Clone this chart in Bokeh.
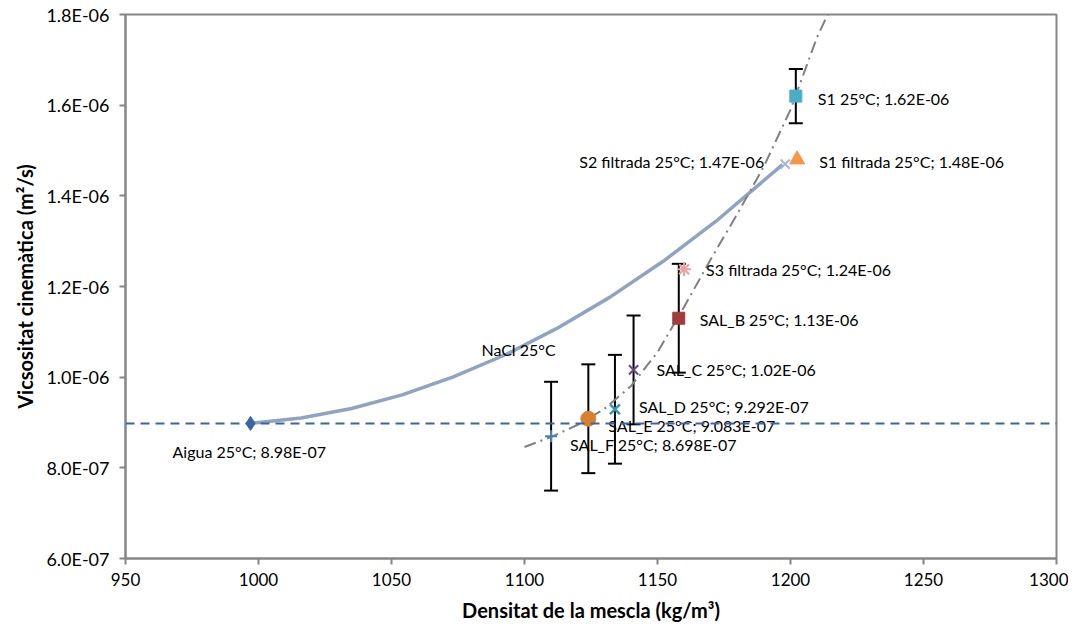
from bokeh.plotting import figure
from bokeh.models import (ColumnDataSource, Whisker, TeeHead, Span, Range1d,
                          SingleIntervalTicker, CustomJSTickFormatter)
from bokeh.embed import file_html
from bokeh.resources import INLINE
from bokeh.core.properties import value

# ---------------- data ----------------
names = ["Aigua 25°C", "SAL_F 25°C", "SAL_E 25°C", "SAL_D 25°C", "SAL_C 25°C",
         "SAL_B 25°C", "S3 filtrada 25°C", "S1 25°C", "S1 filtrada 25°C", "S2 filtrada 25°C"]
density = [997, 1110, 1124, 1134, 1141, 1158, 1160, 1202, 1202.5, 1198]
viscosity = [8.98e-7, 8.698e-7, 9.083e-7, 9.292e-7, 1.016e-6, 1.13e-6, 1.238e-6,
             1.62e-6, 1.48e-6, 1.47e-6]
value_text = ["8.98E-07", "8.698E-07", "9.083E-07", "9.292E-07", "1.02E-06",
              "1.13E-06", "1.24E-06", "1.62E-06", "1.48E-06", "1.47E-06"]
error = [0, 1.2e-7, 1.2e-7, 1.2e-7, 1.2e-7, 1.2e-7, 0, 6e-8, 0, 0]

# NaCl 25°C reference curve
nacl_density = [997, 1016, 1035, 1054, 1073, 1093, 1112, 1132, 1152, 1172, 1197]
nacl_visc = [8.98e-7, 9.10e-7, 9.31e-7, 9.61e-7, 1.000e-6, 1.050e-6, 1.107e-6,
             1.176e-6, 1.255e-6, 1.344e-6, 1.469e-6]

# trend line through the samples
trend_density = [1100, 1110, 1120, 1130, 1140, 1150, 1160, 1170, 1180, 1190, 1200, 1210, 1214]
trend_visc = [8.46e-7, 8.68e-7, 8.95e-7, 9.30e-7, 9.80e-7, 1.055e-6, 1.155e-6,
              1.26e-6, 1.36e-6, 1.465e-6, 1.59e-6, 1.75e-6, 1.80e-6]

water_level = 8.98e-7

x_ticks_interval = 50
y_ticks_interval = 2e-7

# ---------------- styles ----------------
markers = ["diamond", "cross", "circle", "x", "x", "square", "asterisk", "square", "triangle", "x"]
colors = ["#3A67A3", "#4A7EBB", "#D9802E", "#2E9AAE", "#654A8A", "#A23B39",
          "#E6A3A1", "#4BACC6", "#F79646", "#A5B7DA"]
sizes = [14, 12, 15, 14, 13, 12, 14, 12, 15, 13]
widths = [1, 2, 1, 2.5, 2, 1, 2, 1, 1, 2]
label_dx = [-78, 19, 20, 24, 23, 21, 22, 22, 22, -21]
label_dy = [28, 8, 7, -3, 0, 1, 0, 2, 2, -3]
label_align = ["left"] * 9 + ["right"]

FONT = "Lato"

p = figure(frame_width=931, frame_height=544, output_backend="svg", toolbar_location=None,
           x_range=Range1d(950, 1300), y_range=Range1d(6e-7, 1.8e-6),
           min_border_left=125, min_border_top=14, min_border_right=12, min_border_bottom=60,
           background_fill_color="white", border_fill_color="white")
p.grid.visible = False
p.outline_line_color = "#868686"
p.outline_line_width = 2

p.xaxis.ticker = SingleIntervalTicker(interval=x_ticks_interval)
p.yaxis.ticker = SingleIntervalTicker(interval=y_ticks_interval)
p.yaxis.formatter = CustomJSTickFormatter(
    code="var s = tick.toExponential(1); var m = s.split('e'); var e = parseInt(m[1]);"
         "var sign = e < 0 ? '-' : '+'; var a = Math.abs(e); return m[0] + 'E' + sign + (a < 10 ? '0' : '') + a;")

for ax in (p.xaxis[0], p.yaxis[0]):
    ax.axis_line_color = "#868686"
    ax.axis_line_width = 2
    ax.major_tick_line_color = "#868686"
    ax.major_tick_line_width = 2
    ax.major_tick_out = 6
    ax.major_tick_in = 0
    ax.minor_tick_line_color = None
    ax.major_label_text_font = FONT
    ax.major_label_text_font_size = "17px"
    ax.major_label_text_color = "#000000"
    ax.axis_label_text_font = FONT
    ax.axis_label_text_font_size = "20px"
    ax.axis_label_text_font_style = "bold"
    ax.axis_label_text_color = "#000000"

p.yaxis.major_label_text_font_size = "18px"
p.xaxis.major_label_standoff = 8
p.yaxis.major_label_standoff = 10
p.xaxis.axis_label = "Densitat de la mescla (kg/m³)"
p.yaxis.axis_label = "Vicsositat cinemàtica (m²/s)"
p.xaxis.axis_label_standoff = 9
p.yaxis.axis_label_standoff = 6

# water level
p.add_layout(Span(location=water_level, dimension="width", line_color="#3A67A3",
                  line_width=2, line_dash="9 6"))

# NaCl curve
p.line(nacl_density, nacl_visc, line_color="#8FA3C2", line_width=3.5)
p.text(x=[1083.8], y=[1.061e-6], text=["NaCl 25°C"], text_font=value(FONT),
       text_font_size="16px", text_baseline="middle", text_color="#000000")

# trend line
p.line(trend_density, trend_visc, line_color="#808080", line_width=2, line_dash="12 5 2 5")

# error bars
eb_x = [d for d, e in zip(density, error) if e > 0]
eb_lo = [v - e for v, e in zip(viscosity, error) if e > 0]
eb_hi = [v + e for v, e in zip(viscosity, error) if e > 0]
eb_src = ColumnDataSource(dict(x=eb_x, lo=eb_lo, hi=eb_hi))
p.add_layout(Whisker(source=eb_src, base="x", lower="lo", upper="hi", dimension="height",
                     line_color="black", line_width=2,
                     upper_head=TeeHead(size=14, line_width=2, line_color="black"),
                     lower_head=TeeHead(size=14, line_width=2, line_color="black")))

src = ColumnDataSource(dict(x=density, y=viscosity, marker=markers, color=colors, size=sizes,
                            lw=widths,
                            label=[f"{n}; {v}" for n, v in zip(names, value_text)],
                            dx=label_dx, dy=label_dy, align=label_align))
p.scatter(x="x", y="y", marker="marker", size="size", fill_color="color",
          line_color="color", line_width="lw", source=src)
p.text(x="x", y="y", text="label", x_offset="dx", y_offset="dy", text_align="align",
       text_baseline="middle", text_font=value(FONT), text_font_size="16px",
       text_color="#000000", source=src)

open("out.html", "w").write(file_html(p, INLINE))
